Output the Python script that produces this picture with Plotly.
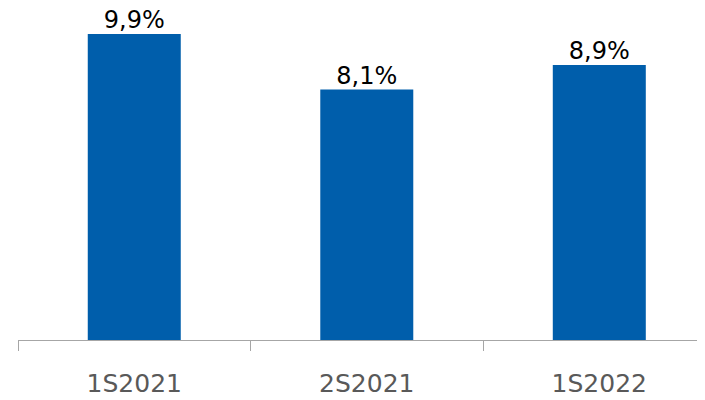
import plotly.graph_objects as go

categories = ["1S2021", "2S2021", "1S2022"]
values = [9.9, 8.1, 8.9]

fig = go.Figure()
fig.add_trace(go.Bar(
    x=categories, y=values, width=0.4,
    marker=dict(color="#005EAB", line=dict(width=0)),
    hoverinfo="skip",
))
fig.add_trace(go.Scatter(
    x=categories, y=values, mode="text",
    text=[f"{v:.1f}%".replace(".", ",") for v in values],
    textposition="top center", cliponaxis=False,
    textfont=dict(family="DejaVu Sans", size=24, color="#000000"),
))
fig.update_layout(
    width=705, height=400, separators=",.",
    margin=dict(l=10, r=0, t=0, b=68, autoexpand=False),
    plot_bgcolor="white", paper_bgcolor="white", showlegend=False,
    xaxis=dict(range=[-0.5, 2.489], showline=True, linecolor="#A6A6A6", linewidth=1,
               ticks="outside", ticklen=10, tickcolor="#A6A6A6", tickson="boundaries",
               tickfont=dict(family="DejaVu Sans", size=25, color="#595959"),
               ticklabelstandoff=21, showgrid=False, automargin=False),
    yaxis=dict(range=[0, 10.74], visible=False, showgrid=False, automargin=False),
)
fig.write_html("out.html")
